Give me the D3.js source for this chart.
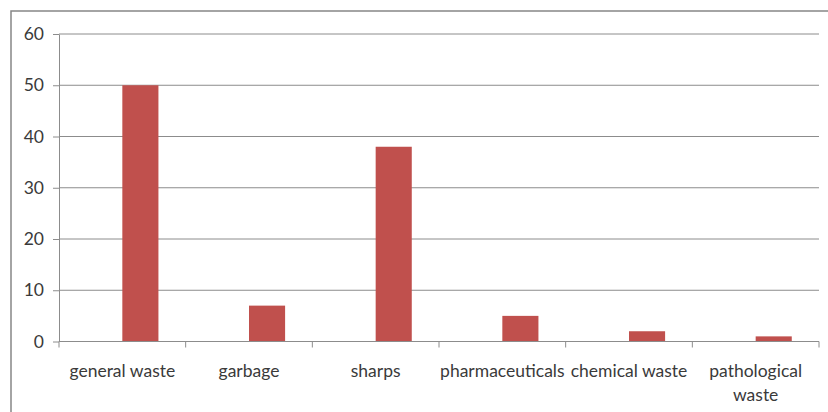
<!DOCTYPE html>
<html>
<head>
<meta charset="utf-8">
<script src="https://cdn.jsdelivr.net/npm/d3@7"></script>
<style>
  html, body { margin: 0; padding: 0; background: #fff; }
  svg { display: block; }
  text { font-family: Lato, "Open Sans", sans-serif; fill: #3a3a3a; }
</style>
</head>
<body>
<svg id="chart" width="828" height="412"></svg>
<script>
// Waste categories and amounts
const categories = ["general waste", "garbage", "sharps", "pharmaceuticals", "chemical waste", "pathological waste"];
const values = [50, 7, 38, 5, 2, 1];
// Two series slots per category; the first one is empty
const seriesKeys = ["blank", "waste"];
const yTicks = [0, 10, 20, 30, 40, 50, 60];

const W = 828, H = 412;
const margin = { top: 34, right: 9, bottom: 70.5, left: 59 };
const fontSize = "17.5px";
const svg = d3.select("#chart");

// outer frame
svg.append("rect")
  .attr("x", 11).attr("y", 11)
  .attr("width", 840).attr("height", 440)
  .attr("fill", "none").attr("stroke", "#868686").attr("stroke-width", 1.5);

const x0 = d3.scaleBand()
  .domain(categories)
  .range([margin.left, W - margin.right])
  .paddingInner(0).paddingOuter(0);

const groupW = x0.bandwidth() * 0.57;
const x1 = d3.scaleBand()
  .domain(seriesKeys)
  .range([0, groupW]);

const y = d3.scaleLinear()
  .domain([0, 60])
  .range([H - margin.bottom, margin.top]);

// horizontal gridlines
svg.append("g")
  .selectAll("line")
  .data(yTicks.filter(d => d > 0))
  .join("line")
  .attr("x1", margin.left).attr("x2", W - margin.right)
  .attr("y1", d => y(d)).attr("y2", d => y(d))
  .attr("stroke", "#8c8c8c").attr("stroke-width", 1);

// bars
svg.append("g")
  .selectAll("rect")
  .data(categories.map((c, i) => ({ c, v: values[i] })))
  .join("rect")
  .attr("x", d => x0(d.c) + (x0.bandwidth() - groupW) / 2 + x1("waste"))
  .attr("width", x1.bandwidth())
  .attr("y", d => y(d.v))
  .attr("height", d => y(0) - y(d.v))
  .attr("fill", "#C0504D");

// y axis
const yAxis = svg.append("g")
  .attr("transform", `translate(${margin.left},0)`)
  .call(d3.axisLeft(y).tickValues(yTicks).tickSize(6).tickPadding(9).tickSizeOuter(0));
yAxis.select(".domain").attr("stroke", "#8c8c8c");
yAxis.selectAll(".tick line").attr("stroke", "#8c8c8c");
yAxis.selectAll("text")
  .style("font-size", fontSize).attr("fill", "#3a3a3a")
  .style("font-family", "Lato, 'Open Sans', sans-serif");

// x axis with ticks at category boundaries
const xg = svg.append("g");
xg.append("line")
  .attr("x1", margin.left).attr("x2", W - margin.right)
  .attr("y1", y(0)).attr("y2", y(0))
  .attr("stroke", "#8c8c8c");
const bounds = categories.map(c => x0(c)).concat([x0(categories[categories.length - 1]) + x0.bandwidth()]);
xg.selectAll("line.tk")
  .data(bounds)
  .join("line")
  .attr("class", "tk")
  .attr("x1", d => d).attr("x2", d => d)
  .attr("y1", y(0)).attr("y2", y(0) + 6)
  .attr("stroke", "#8c8c8c");

// category labels, wrapped to the band width
const labels = xg.selectAll("text.cat")
  .data(categories)
  .join("text")
  .attr("class", "cat")
  .attr("text-anchor", "middle")
  .style("font-size", fontSize)
  .attr("x", d => x0(d) + x0.bandwidth() / 2)
  .attr("y", y(0) + 35.5);

labels.each(function (d) {
  const t = d3.select(this);
  const cx = x0(d) + x0.bandwidth() / 2;
  const words = d.split(" ");
  let lines = [];
  let line = [];
  const probe = t.append("tspan");
  words.forEach(w => {
    const trial = line.concat([w]).join(" ");
    probe.text(trial);
    if (probe.node().getComputedTextLength() > x0.bandwidth() && line.length) {
      lines.push(line.join(" "));
      line = [w];
    } else {
      line.push(w);
    }
  });
  lines.push(line.join(" "));
  probe.remove();
  lines.forEach((l, i) => {
    t.append("tspan").attr("x", cx).attr("dy", i === 0 ? 0 : 23.5).text(l);
  });
});
</script>
</body>
</html>
